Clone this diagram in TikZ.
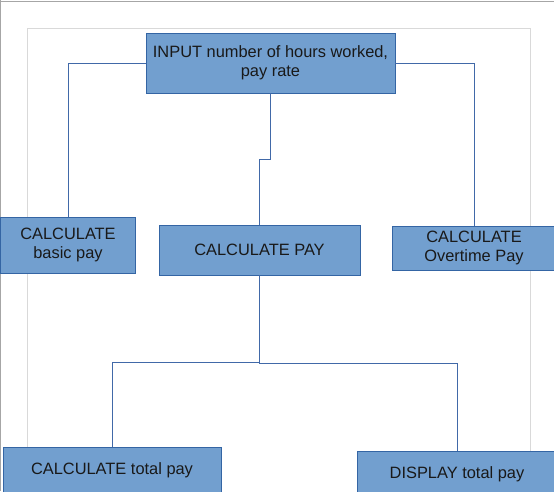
\documentclass[tikz,border=0pt]{standalone}
\usepackage{fontspec}
\setmainfont{Liberation Sans}
\definecolor{boxfill}{HTML}{729FCF}
\definecolor{boxline}{HTML}{3465A4}
\definecolor{conn}{HTML}{4169A8}
\definecolor{frameA}{HTML}{A6A6A6}
\definecolor{frameB}{HTML}{D9D9D9}
\begin{document}
\begin{tikzpicture}[x=1pt,y=-1pt,
  box/.style={draw=boxline,fill=boxfill,line width=0.9pt,inner sep=0pt,align=center,
    font=\fontsize{16.4}{19}\selectfont,text=black!90},
  link/.style={draw=conn,line width=0.9pt}]
\useasboundingbox (0,0) rectangle (554,491);
\clip (0,0) rectangle (554,491);
% frames
\draw[frameA,line width=1pt] (0,1) -- (554,1);
\draw[frameA,line width=1pt] (0.5,0) -- (0.5,491);
\draw[frameB,line width=1pt] (27,495) -- (27,28) -- (530,28) -- (530,495);
% nodes
\node[box,minimum width=249pt,minimum height=60pt] (in) at (270.5,63) {INPUT number of hours worked,\\pay rate};
\node[box,minimum width=135pt,minimum height=56pt] (basic) at (68,245) {CALCULATE\\basic pay};
\node[box,minimum width=201pt,minimum height=50pt] (pay) at (259.5,250) {CALCULATE PAY};
\node[box,minimum width=164pt,minimum height=44pt] (ot) at (474,248) {CALCULATE\\Overtime Pay};
\node[box,minimum width=218pt,minimum height=46pt] (tot) at (112,470) {CALCULATE total pay};
\node[box,minimum width=200pt,minimum height=46pt] (disp) at (457,474) {DISPLAY total pay};
% connectors
\draw[link] (in.west) -| (basic.north);
\draw[link] (in.east) -| (ot.north);
\draw[link] (in.south) -- ++(0,66) -| (pay.north);
\draw[link] (pay.south) -- ++(0,87) -| (tot.north);
\draw[link] (pay.south) -- ++(0,88) -| (disp.north);
\end{tikzpicture}
\end{document}
